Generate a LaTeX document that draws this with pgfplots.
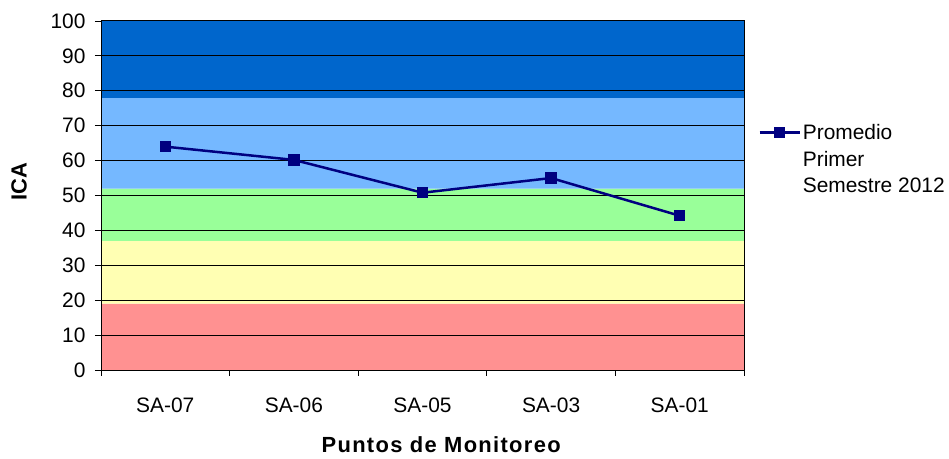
\documentclass[border=0pt]{standalone}
\usepackage{pgfplots}
\pgfplotsset{compat=1.18}
\usepackage{fontspec}
\setmainfont{Liberation Sans}
\definecolor{bdark}{HTML}{0066CC}
\definecolor{blight}{HTML}{75B8FF}
\definecolor{bgreen}{HTML}{99FF99}
\definecolor{byellow}{HTML}{FFFFB3}
\definecolor{bred}{HTML}{FF9191}
\definecolor{navyline}{HTML}{000080}
\begin{document}
\begin{tikzpicture}
\begin{axis}[
  at={(0,0)}, anchor=south west,
  scale only axis, width=643bp, height=349bp,
  set layers,
  xmin=-0.5, xmax=4.5, ymin=0, ymax=100,
  xtick={0,1,2,3,4},
  xticklabels={SA-07,SA-06,SA-05,SA-03,SA-01},
  minor xtick={-0.5,0.5,1.5,2.5,3.5,4.5},
  major x tick style={draw=none},
  ytick={0,10,...,100},
  tick align=outside, xtick pos=bottom, ytick pos=left,
  major tick length=6bp, minor tick length=6bp,
  tick style={black, line width=0.8bp},
  ymajorgrids, grid style={black, line width=1bp},
  axis line style={black, line width=1bp},
  /pgf/number format/assume math mode=true,
  tick label style={font=\fontsize{21}{25}\selectfont},
  xticklabel style={yshift=-18bp},
  yticklabel style={xshift=-6bp},
  xlabel={Puntos de Monitoreo},
  ylabel={ICA},
  label style={font=\bfseries\fontsize{22}{26}\selectfont},
  xlabel style={at={(axis description cs:0.529,-0.215)}, anchor=center, font=\bfseries\fontsize{22}{26}\selectfont\addfontfeatures{LetterSpace=6}},
  ylabel style={at={(axis description cs:-0.1275,0.539)}, anchor=center, rotate=0},
  legend style={at={(axis description cs:1.022,0.71)}, anchor=north west, draw=none, fill=none,
    font=\fontsize{21}{25}\selectfont, row sep=6bp, inner sep=0pt,
    nodes={inner sep=2bp}},
  legend cell align=left,
  legend image code/.code={\draw[mark repeat=2,mark phase=2,#1] plot coordinates {(0bp,0bp) (20bp,0bp) (40bp,0bp)};},
]
\addplot[on layer=axis background, fill=bred, draw=none, forget plot] coordinates {(-0.5,0) (4.5,0) (4.5,19) (-0.5,19)} \closedcycle;
\addplot[on layer=axis background, fill=byellow, draw=none, forget plot] coordinates {(-0.5,19) (4.5,19) (4.5,37) (-0.5,37)} \closedcycle;
\addplot[on layer=axis background, fill=bgreen, draw=none, forget plot] coordinates {(-0.5,37) (4.5,37) (4.5,52) (-0.5,52)} \closedcycle;
\addplot[on layer=axis background, fill=blight, draw=none, forget plot] coordinates {(-0.5,52) (4.5,52) (4.5,78) (-0.5,78)} \closedcycle;
\addplot[on layer=axis background, fill=bdark, draw=none, forget plot] coordinates {(-0.5,78) (4.5,78) (4.5,100) (-0.5,100)} \closedcycle;
\addplot[navyline, line width=2.5bp, mark=square*, mark size=4.5bp, mark options={solid}] coordinates {
  (0,64) (1,60.2) (2,50.8) (3,55) (4,44.2)};
\addlegendentry{Promedio}
\addlegendimage{empty legend}
\addlegendentry{Primer}
\addlegendimage{empty legend}
\addlegendentry{Semestre 2012}
\end{axis}
\pgfresetboundingbox
\useasboundingbox (-101bp,-89bp) rectangle (848bp,370bp);
\end{tikzpicture}
\end{document}
